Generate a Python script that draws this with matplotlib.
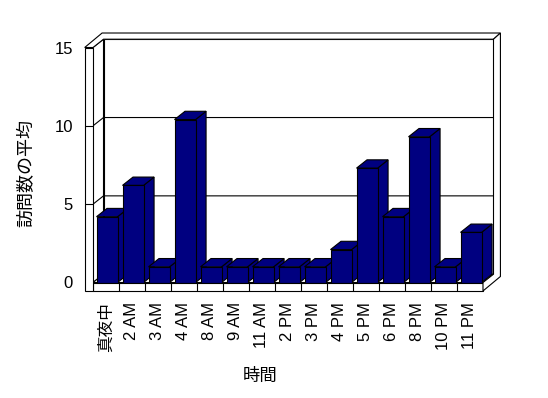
#visits_by_hour.py

import numpy as np
import matplotlib.pyplot as plt
from matplotlib.patches import Polygon

plt.rcParams['font.family'] = ['Liberation Sans', 'Noto Sans CJK JP', 'DejaVu Sans']

hours = ['真夜中', '2 AM', '3 AM', '4 AM', '8 AM', '9 AM', '11 AM', '2 PM',
         '3 PM', '4 PM', '5 PM', '6 PM', '8 PM', '10 PM', '11 PM']
visits = [4.2, 6.2, 1, 10.4, 1, 1, 1, 1, 1, 2.1, 7.3, 4.2, 9.3, 1, 3.2]
yticks = [0, 5, 10, 15]


def main():
    navy = '#000080'
    lw = 0.8
    dx, dy = 0.404, 0.53    #床の奥行き
    tx, ty = 0.67, 0.925    #奥の壁を含めた奥行き
    wt = 0.32               #左の壁の厚み
    ft = 0.54               #床の厚み
    n = len(hours)
    top = yticks[-1]

    fig = plt.figure(figsize=(5.48, 3.98), dpi=100)
    ax = fig.add_axes([93 / 548, 1 - 282.5 / 398, 390 / 548, 235 / 398])
    ax.set_xlim(0, n)
    ax.set_ylim(0, top)
    ax.patch.set_visible(False)
    for s in ax.spines.values():
        s.set_visible(False)

    def poly(pts, fc='white', z=1):
        ax.add_patch(Polygon(pts, closed=True, fc=fc, ec='black', lw=lw,
                             clip_on=False, zorder=z, joinstyle='miter'))

    #奥の壁と左の壁
    poly([(dx, dy), (n + dx, dy), (n + dx, top + dy), (dx, top + dy)])
    poly([(0, 0), (dx, dy), (dx, top + dy), (0, top)])
    for v in yticks[1:-1]:
        ax.plot([0, dx, n + dx], [v, v + dy, v + dy], color='black', lw=lw,
                clip_on=False, zorder=1.5)
    #床
    poly([(0, 0), (n, 0), (n + dx, dy), (dx, dy)], z=2)

    #棒
    for i, v in enumerate(visits):
        c0, c1 = i + 0.135, i + 0.945
        z = 3 + i * 0.01
        poly([(c1, 0), (c1 + dx, dy), (c1 + dx, v + dy), (c1, v)], fc=navy, z=z)
        poly([(c0, v), (c1, v), (c1 + dx, v + dy), (c0 + dx, v + dy)], fc=navy, z=z)
        poly([(c0, 0), (c1, 0), (c1, v), (c0, v)], fc=navy, z=z + 0.005)

    #手前の面
    poly([(0, -ft), (n, -ft), (n, 0), (0, 0)], z=5)
    ax.vlines(np.arange(1, n), -ft, 0, color='black', lw=lw, clip_on=False, zorder=5.5)
    poly([(-wt, -ft), (0, -ft), (0, top), (-wt, top)], z=5)
    ax.hlines(yticks[1:-1], -wt, 0, color='black', lw=lw, clip_on=False, zorder=5.5)
    poly([(-wt, top), (-wt + tx, top + ty), (n + tx, top + ty), (n + dx, top + dy),
          (dx, top + dy), (0, top)], z=5)
    poly([(n, 0), (n, -ft), (n + tx, -ft + ty), (n + tx, top + ty),
          (n + dx, top + dy), (n + dx, dy)], z=5)

    ax.set_xticks(np.arange(n) + 0.5, hours, rotation=90, fontsize=12)
    ax.set_yticks(yticks, [str(t) for t in yticks], fontsize=12)
    ax.tick_params(axis='x', length=0, pad=14)
    ax.tick_params(axis='y', length=0, pad=14.5)

    fig.text(27 / 548, 1 - 173 / 398, '訪問数の平均', rotation=90,
             ha='center', va='center', fontsize=13)
    fig.text(260 / 548, 1 - 376 / 398, '時間', ha='center', va='center', fontsize=12.5)

    fig.savefig('out.png', dpi=100)

if __name__ == '__main__':
    main()
